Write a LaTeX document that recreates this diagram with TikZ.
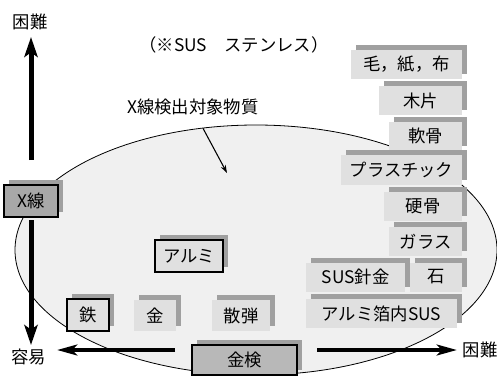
\documentclass[tikz,border=0pt]{standalone}
\usepackage{fontspec}
\setmainfont{Noto Sans CJK JP}
\usetikzlibrary{shadows,arrows.meta}
\definecolor{boxfill}{HTML}{E0E0E0}
\definecolor{shgray}{HTML}{A0A0A0}
\definecolor{xfill}{HTML}{A8A8A8}
\definecolor{kfill}{HTML}{B8B8B8}
\definecolor{ellfill}{HTML}{F0F0F0}
\begin{document}
\begin{tikzpicture}[x=0.75pt,y=-0.75pt,
  every node/.style={font=\fontsize{13}{15}\selectfont, inner sep=0pt},
  sbox/.style={rectangle, fill=boxfill, minimum height=29*0.75pt,
    drop shadow={shadow xshift=3.75pt,shadow yshift=3.75pt,fill=shgray,opacity=1}},
  bbox/.style={sbox, draw=black, line width=0.8pt},
  bigarrow/.style={line width=3.75pt, -{Stealth[length=15pt,width=10pt,inset=3.5pt]}},
  harrow/.style={line width=3pt, -{Stealth[length=15pt,width=8pt,inset=3.5pt]}},
  thinarrow/.style={line width=0.8pt, -{Stealth[length=6pt,width=4pt]}}
]
\useasboundingbox (0,0) rectangle (497,376);
% ellipse
\path[fill=ellfill, draw=black, line width=0.6pt] (256,250) ellipse [x radius=241, y radius=125];

% labels
\node (topnote) at (234,45) {（※SUS　ステンレス）};
\node (target) at (193,107) {X線検出対象物質};
\coordinate (targettip) at (227,173);
\draw[thinarrow] ([shift={(10,13)}]target.south) -- (targettip);

% right column boxes
\node[sbox, minimum width=111*0.75pt] (b1) at (406.5,64.5) {毛，紙，布};
\node[sbox, minimum width=83*0.75pt] (b2) at (420.5,100.5) {木片};
\node[sbox, minimum width=73*0.75pt] (b3) at (425.5,136) {軟骨};
\node[sbox, minimum width=121*0.75pt, minimum height=30*0.75pt] (b4) at (401.5,170) {プラスチック};
\node[sbox, minimum width=78*0.75pt] (b5) at (423,206.5) {硬骨};
\node[sbox, minimum width=73*0.75pt] (b6) at (425.5,241.5) {ガラス};
\node[sbox, minimum width=99*0.75pt] (b7) at (355.5,277) {SUS針金};
\node[sbox, minimum width=52*0.75pt] (b8) at (436,277) {石};
\node[sbox, minimum width=151*0.75pt] (b9) at (381.5,313.5) {アルミ箔内SUS};

% left boxes
\node[bbox, fill=xfill, minimum width=54*0.75pt, minimum height=32*0.75pt] (xray) at (31,201) {X線};
\node[bbox, minimum width=68*0.75pt, minimum height=32*0.75pt] (alu) at (189,256) {アルミ};
\node[bbox, minimum width=42*0.75pt, minimum height=32*0.75pt] (iron) at (88,315) {鉄};
\node[sbox, minimum width=42*0.75pt, minimum height=31*0.75pt] (gold) at (155,315.5) {金};
\node[sbox, minimum width=58*0.75pt, minimum height=31*0.75pt] (shot) at (241,315.5) {散弾};
\node[bbox, fill=kfill, minimum width=105*0.75pt, minimum height=30*0.75pt] (kinken) at (244.5,360) {金検};

% axis labels
\node (hardv) at (30,22) {困難};
\node (easy) at (29,357) {容易};
\node (hardh) at (480,350) {困難};

% axis arrows
\coordinate (vstart) at (31,160);
\coordinate (vtip) at (31,37);
\draw[bigarrow] (vstart) -- (vtip);
\coordinate (v2start) at (31,220);
\coordinate (v2tip) at (31,345);
\draw[bigarrow] (v2start) -- (v2tip);
\coordinate (lstart) at (175,350);
\coordinate (ltip) at (57,350);
\draw[harrow] (lstart) -- (ltip);
\coordinate (rstart) at (317,350);
\coordinate (rtip) at (457,350);
\draw[harrow] (rstart) -- (rtip);
\end{tikzpicture}
\end{document}
